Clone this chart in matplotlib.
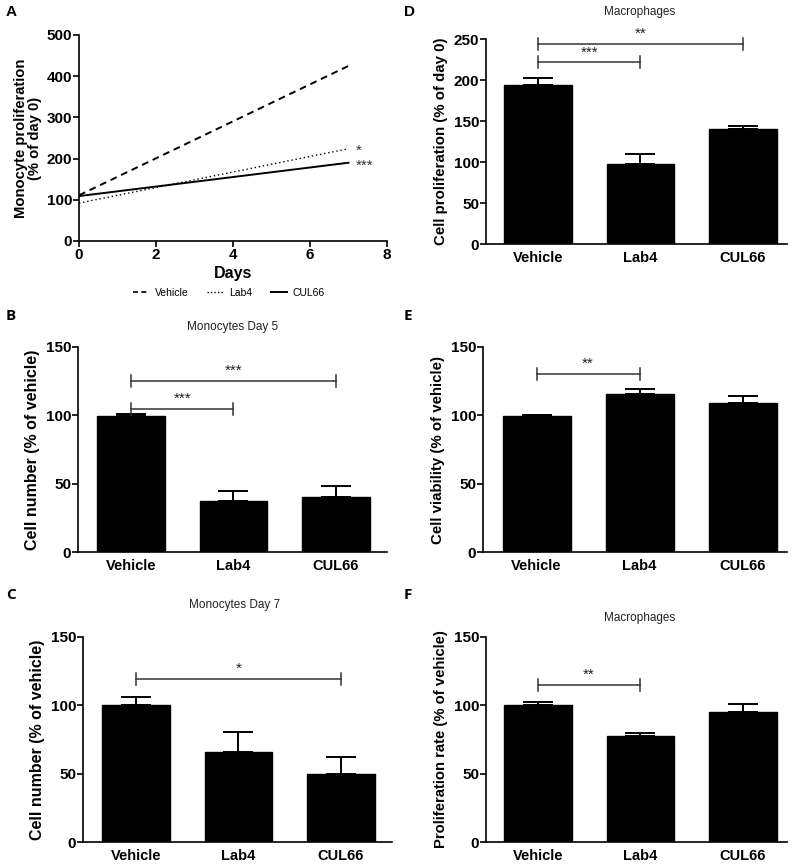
import matplotlib
matplotlib.use("Agg")
import matplotlib.pyplot as plt
from matplotlib.lines import Line2D
import numpy as np

plt.rcParams['font.family'] = ['Liberation Sans', 'DejaVu Sans']
plt.rcParams['font.weight'] = 'bold'
plt.rcParams['axes.labelweight'] = 'bold'

# ---------------- data ----------------
groups = ["Vehicle", "Lab4", "CUL66"]

# Panel A: monocyte proliferation over days (linear fits)
days = [0, 7]
a_vehicle = [111, 425]
a_lab4 = [92, 224]
a_cul66 = [109, 190]

# Panel B: Monocytes Day 5
b_means = [99.4, 37.4, 40.6]
b_err = [1.6, 7.6, 7.4]
# Panel C: Monocytes Day 7
c_means = [100, 65.6, 49.8]
c_err = [5.9, 14.6, 12.6]
# Panel D: Macrophages proliferation
d_means = [194, 98, 140]
d_err = [9, 12, 4]
# Panel E: viability
e_means = [99.7, 115.5, 109]
e_err = [0.8, 3.9, 5]
# Panel F: Macrophages proliferation rate
f_means = [100, 77.3, 95.1]
f_err = [2.4, 2.2, 5.9]

# significance brackets: (i, j, y, label)
b_sig = [(0, 2, 125.2, "***"), (0, 1, 105, "***")]
c_sig = [(0, 2, 119.5, "*")]
d_sig = [(0, 2, 244, "**"), (0, 1, 221.5, "***")]
e_sig = [(0, 1, 130.6, "**")]
f_sig = [(0, 1, 115.1, "**")]

W, H = 800, 865
fig = plt.figure(figsize=(W / 100, H / 100), dpi=100)


def ax_px(left, right, top, bottom):
    return fig.add_axes([left / W, 1 - bottom / H, (right - left) / W, (bottom - top) / H])


def style(ax, size=11):
    for s in ["top", "right"]:
        ax.spines[s].set_visible(False)
    for s in ["left", "bottom"]:
        ax.spines[s].set_linewidth(1.2)
    ax.tick_params(axis='both', direction='out', length=4, width=1.2, labelsize=size, pad=1)


def bar_panel(ax, means, err, ymax, yticks, ylabel, sigs, title=None, title_pos=(0.5, 1.1),
              xlim=(-0.51, 2.45), tick_px=6, ax_h=205, ylsize=10.8):
    x = np.arange(len(groups))
    ax.bar(x, means, width=0.66, color='black', edgecolor='black', zorder=2)
    ax.errorbar(x, means, yerr=[np.zeros(len(err)), err], fmt='none', ecolor='black',
                elinewidth=1.4, capsize=11, capthick=1.4, zorder=1)
    ax.set_xlim(*xlim)
    ax.set_ylim(0, ymax)
    ax.set_yticks(yticks)
    ax.set_xticks(x)
    ax.set_xticklabels(groups)
    ax.set_ylabel(ylabel, fontsize=ylsize, labelpad=4)
    style(ax, 11)
    ax.tick_params(axis='x', length=0, pad=5, labelsize=10.5)
    h = tick_px * ymax / ax_h
    for (i, j, y, lab) in sigs:
        ax.plot([i, j], [y, y], color='#333333', lw=1.1, clip_on=False)
        ax.plot([i, i], [y - h, y + h], color='#333333', lw=1.1, clip_on=False)
        ax.plot([j, j], [y - h, y + h], color='#333333', lw=1.1, clip_on=False)
        ax.text((i + j) / 2, y + 0.5 * h, lab, ha='center', va='bottom', fontsize=11,
                color='#222222', fontweight='normal')
    if title:
        ax.text(title_pos[0], title_pos[1], title, transform=ax.transAxes, ha='center',
                va='center', fontsize=8.5, fontweight='normal', color='#222222')


# ---------------- Panel A ----------------
axA = ax_px(79, 387, 35, 241)
axA.plot(days, a_vehicle, color='black', lw=1.4, ls=(0, (3.5, 2.5)))
axA.plot(days, a_lab4, color='black', lw=1.0, ls=(0, (1, 2)))
axA.plot(days, a_cul66, color='black', lw=1.4, ls='-')
axA.set_xlim(0, 8)
axA.set_ylim(0, 500)
axA.set_xticks([0, 2, 4, 6, 8])
axA.set_yticks([0, 100, 200, 300, 400, 500])
style(axA, 11)
axA.set_xlabel("Days", fontsize=11.5, labelpad=3)
axA.set_ylabel("Monocyte proliferation\n(% of day 0)", fontsize=10.6, labelpad=3, linespacing=1.0)
axA.text(7.2, a_lab4[1] - 4, "*", fontsize=11, ha='left', va='center', color='#333333',
         fontweight='normal')
axA.text(7.2, a_cul66[1] - 8, "***", fontsize=11, ha='left', va='center', color='#333333',
         fontweight='normal')
handles = [Line2D([0], [0], color='black', lw=1.2, ls=(0, (3, 2))),
           Line2D([0], [0], color='black', lw=1.0, ls=(0, (1, 1.5))),
           Line2D([0], [0], color='black', lw=1.4, ls='-')]
leg = fig.legend(handles, groups, loc='center', bbox_to_anchor=(229 / W, 1 - 293 / H), ncol=3,
                 frameon=False, handlelength=1.5, columnspacing=1.8, handletextpad=0.6,
                 prop={'size': 7.5, 'weight': 'normal'})

# ---------------- Panels B-F ----------------
axB = ax_px(78, 387, 347, 552)
bar_panel(axB, b_means, b_err, 150, [0, 50, 100, 150], "Cell number (% of vehicle)", b_sig,
          title="Monocytes Day 5", title_pos=(0.50, 1.098), xlim=(-0.517, 2.5), ylsize=11.5)

axC = ax_px(83, 392, 637, 842)
bar_panel(axC, c_means, c_err, 150, [0, 50, 100, 150], "Cell number (% of vehicle)", c_sig,
          title="Monocytes Day 7", title_pos=(0.49, 1.156), xlim=(-0.517, 2.5), ylsize=11.5)

axD = ax_px(486, 787, 39, 244)
bar_panel(axD, d_means, d_err, 250, [0, 50, 100, 150, 200, 250], "Cell proliferation (% of day 0)", d_sig,
          title="Macrophages", title_pos=(0.51, 1.132), xlim=(-0.506, 2.43))

axE = ax_px(483, 787, 347, 552)
bar_panel(axE, e_means, e_err, 150, [0, 50, 100, 150], "Cell viability (% of vehicle)", e_sig,
          xlim=(-0.52, 2.43))

axF = ax_px(486, 787, 637, 842)
bar_panel(axF, f_means, f_err, 150, [0, 50, 100, 150], "Proliferation rate (% of vehicle)", f_sig,
          title="Macrophages", title_pos=(0.51, 1.093), xlim=(-0.506, 2.43), ylsize=10.7)

# panel letters
for lab, x, y, fam in [("A", 6, 12, 'Liberation Sans'), ("D", 404, 12, 'Liberation Sans'),
                       ("B", 6, 316, 'Open Sans'), ("E", 404, 316, 'Open Sans'),
                       ("C", 6, 595, 'Open Sans'), ("F", 404, 595, 'Open Sans')]:
    fig.text(x / W, 1 - y / H, lab, fontsize=11, fontweight='bold', ha='left', va='center',
             family=[fam, 'DejaVu Sans'])

fig.savefig("out.png", dpi=100, facecolor='white')
